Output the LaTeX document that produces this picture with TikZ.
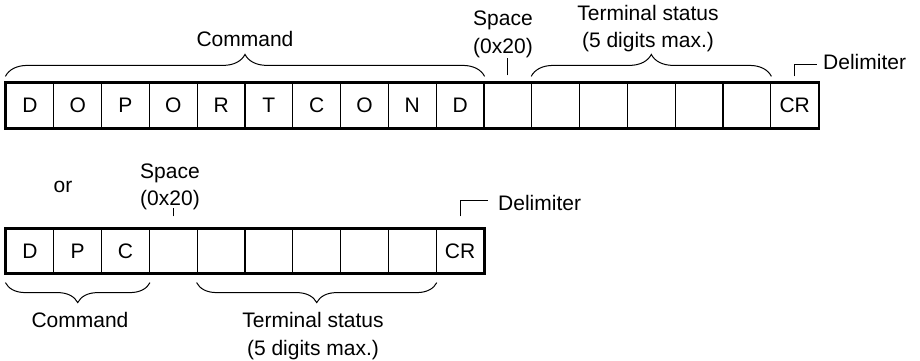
\documentclass[tikz,border=0pt]{standalone}
\usepackage{fontspec}
\setmainfont{Liberation Sans}
\usetikzlibrary{decorations.pathreplacing}
\begin{document}
\begin{tikzpicture}[x=1pt,y=-1pt,
  cell/.style={draw,line width=1.2pt,minimum width=47.8pt,minimum height=45pt,inner sep=0pt,font=\fontsize{21}{27}\selectfont},
  lbl/.style={font=\fontsize{21}{27}\selectfont,inner sep=0pt,anchor=base},
  bracelin/.style={line width=1pt,decorate,decoration={brace,amplitude=#1}},
  tickln/.style={line width=1pt}]
\useasboundingbox (0,0) rectangle (920,361);
% top row
\foreach \t [count=\i] in {D,O,P,O,R,T,C,O,N,D,{},{},{},{},{},{},CR}
  \node[cell] (t\i) at ({6+47.8*(\i-0.5)},105.5) {\t};
\draw[line width=2pt] (t1.north west) rectangle (t17.south east);
% bottom row
\foreach \t [count=\i] in {D,P,C,{},{},{},{},{},{},CR}
  \node[cell,minimum height=44pt] (b\i) at ({6+47.8*(\i-0.5)},251) {\t};
\draw[line width=2pt] (b1.north west) rectangle (b10.south east);
% top braces
\draw[bracelin=22pt] ([yshift=6pt]t1.north west) -- ([yshift=6pt]t10.north east);
\draw[bracelin=22pt] ([yshift=6pt]t12.north west) -- ([yshift=6pt]t16.north east);
% bottom braces
\draw[bracelin=20pt] ([yshift=-9pt]b3.south east) -- ([yshift=-9pt]b1.south west);
\draw[bracelin=20pt] ([yshift=-9pt]b9.south east) -- ([yshift=-9pt]b5.south west);
% top labels
\node[lbl] (cmdA) at (245,46) {Command};
\node[lbl] (spA1) at (503,26) {Space};
\node[lbl] (spA2) at (503,54) {(0x20)};
\node[lbl] (tsA1) at (648,21) {Terminal status};
\node[lbl] (tsA2) at (648,48) {(5 digits max.)};
\node[lbl,anchor=base west] (dlA) at (823,70) {Delimiter};
% bottom labels
\node[lbl] (orB) at (63,192) {or};
\node[lbl] (spB1) at (170,178) {Space};
\node[lbl] (spB2) at (170,205) {(0x20)};
\node[lbl] (cmdB) at (80,327) {Command};
\node[lbl] (tsB1) at (313,327) {Terminal status};
\node[lbl] (tsB2) at (313,355) {(5 digits max.)};
\node[lbl,anchor=base west] (dlB) at (498,210) {Delimiter};
% ticks
\draw[tickln] ([yshift=7pt]t11.north) -- ([yshift=24pt]t11.north);
\draw[tickln] ([yshift=12pt]b4.north) -- ([yshift=20pt]b4.north);
\coordinate (dA) at ([shift={(22pt,18pt)}]t17.north);
\coordinate (dB) at ([shift={(28pt,28pt)}]b10.north);
\draw[tickln] ([yshift=6pt]t17.north) |- (dA);
\draw[tickln] ([yshift=12pt]b10.north) |- (dB);
\end{tikzpicture}
\end{document}
